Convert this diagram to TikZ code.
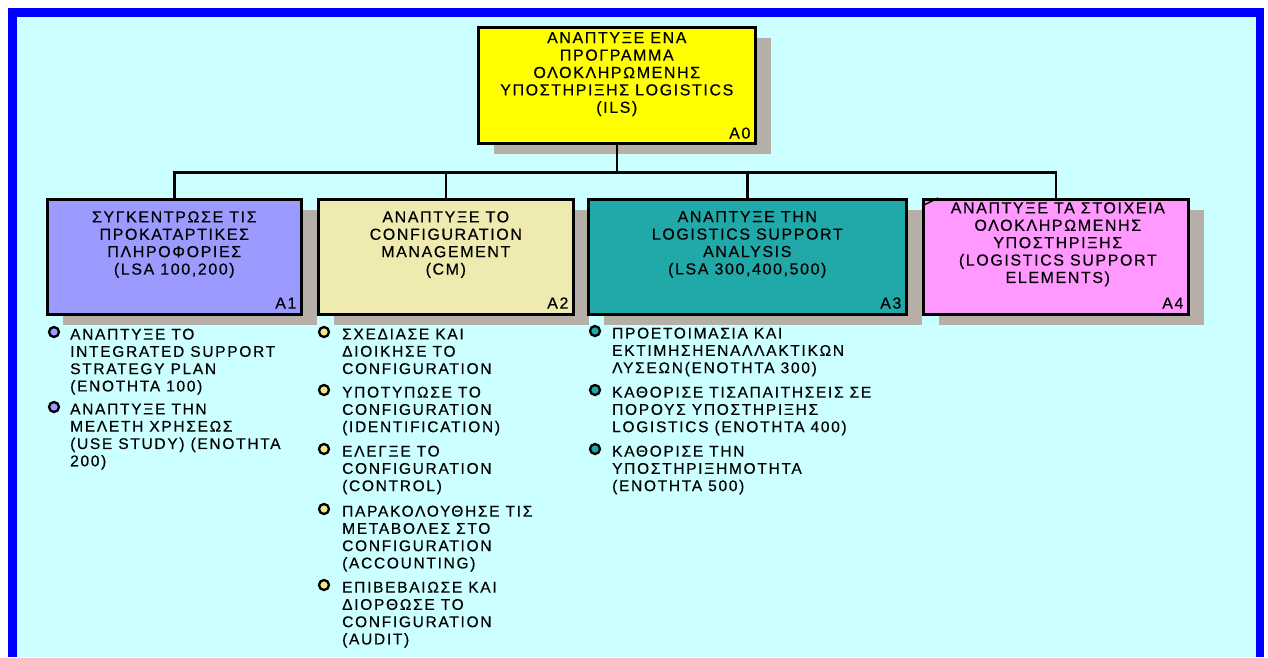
\documentclass[tikz,border=0pt]{standalone}
\usepackage{fontspec}
\setmainfont{Liberation Sans}
\newfontfamily\boxfont{Liberation Sans}[LetterSpace=10, FakeBold=0.4]
\newfontfamily\listfont{Liberation Sans}[LetterSpace=11, FakeBold=0.4]
\usetikzlibrary{shadows,calc}

\definecolor{frameblue}{RGB}{0,0,255}
\definecolor{paper}{RGB}{204,255,255}
\definecolor{shadowgray}{RGB}{181,175,168}
\definecolor{cYellow}{RGB}{255,255,0}
\definecolor{cLavender}{RGB}{155,155,255}
\definecolor{cKhaki}{RGB}{239,235,176}
\definecolor{cTeal}{RGB}{33,168,168}
\definecolor{cPink}{RGB}{255,153,255}
\definecolor{dotKhaki}{RGB}{240,228,140}

\tikzset{
  box/.style={draw=black, line width=2.6pt, anchor=north west, inner sep=0pt,
    general shadow={fill=shadowgray, shadow xshift=16pt, shadow yshift=-11pt}},
  boxtext/.style={anchor=north, align=center, inner sep=0pt,
    font=\boxfont\fontsize{16}{17.4}\selectfont},
  tag/.style={anchor=base east, inner sep=0pt,
    font=\boxfont\fontsize{16}{18}\selectfont},
  item/.style={anchor=north west, align=left, inner sep=0pt,
    font=\listfont\fontsize{15.5}{17.3}\selectfont},
  dot/.style={circle, draw=black, line width=2.3pt, minimum size=10pt, inner sep=0pt},
  wire/.style={line width=2.6pt},
}

\begin{document}
\begin{tikzpicture}[x=1pt, y=-1pt]
  \useasboundingbox (0,0) rectangle (1268,657);
  \fill[white] (0,0) rectangle (1268,657);

  % frame and sheet
  \fill[frameblue] (7.5,8) rectangle (1264,657);
  \fill[paper] (16.5,16.5) rectangle (1256,657);

  % activity boxes
  \node[box, fill=cYellow, minimum width=277pt, minimum height=116pt] (a0) at (477,26) {};
  \node[box, fill=cLavender, minimum width=254pt, minimum height=115pt] (a1) at (46,198) {};
  \node[box, fill=cKhaki, minimum width=255pt, minimum height=115pt] (a2) at (317,198) {};
  \node[box, fill=cTeal, minimum width=318pt, minimum height=115pt] (a3) at (587,198) {};
  \node[box, fill=cPink, minimum width=265pt, minimum height=115pt] (a4) at (922,198) {};

  % decomposition tree
  \coordinate (j0) at ($(a0.south)+(0,28)$);
  \draw[wire] (a0.south) -- (j0);
  \draw[wire] (j0) -| (a1.north);
  \draw[wire] (j0) -| (a2.north);
  \draw[wire] (j0) -| (a3.north);
  \draw[wire] (j0) -| (a4.north);

  % corner mark of the undecomposed box
  \draw[line width=1.4pt] ($(a4.north west)+(0,8)$) -- ($(a4.north west)+(16,0)$);

  % box titles
  \node[boxtext] (t0) at ($(a0.north)+(0,6)$) {ΑΝΑΠΤΥΞΕ ΕΝΑ\\ΠΡΟΓΡΑΜΜΑ\\ΟΛΟΚΛΗΡΩΜΕΝΗΣ\\ΥΠΟΣΤΗΡΙΞΗΣ LOGISTICS\\(ILS)};
  \node[boxtext] (t1) at ($(a1.north)+(0,13)$) {ΣΥΓΚΕΝΤΡΩΣΕ ΤΙΣ\\ΠΡΟΚΑΤΑΡΤΙΚΕΣ\\ΠΛΗΡΟΦΟΡΙΕΣ\\(LSA 100,200)};
  \node[boxtext] (t2) at ($(a2.north)+(0,13)$) {ΑΝΑΠΤΥΞΕ ΤΟ\\CONFIGURATION\\MANAGEMENT\\(CM)};
  \node[boxtext] (t3) at ($(a3.north)+(0,13)$) {ΑΝΑΠΤΥΞΕ ΤΗΝ\\LOGISTICS SUPPORT\\ANALYSIS\\(LSA 300,400,500)};
  \node[boxtext] (t4) at ($(a4.north)+(2,4)$) {ΑΝΑΠΤΥΞΕ ΤΑ ΣΤΟΙΧΕΙΑ\\ΟΛΟΚΛΗΡΩΜΕΝΗΣ\\ΥΠΟΣΤΗΡΙΞΗΣ\\(LOGISTICS SUPPORT\\ELEMENTS)};

  % box numbers
  \node[tag] (n0) at ($(a0.south east)+(-6,-6)$) {A0};
  \node[tag] (n1) at ($(a1.south east)+(-6,-7)$) {A1};
  \node[tag] (n2) at ($(a2.south east)+(-6,-7)$) {A2};
  \node[tag] (n3) at ($(a3.south east)+(-6,-7)$) {A3};
  \node[tag] (n4) at ($(a4.south east)+(-6,-7)$) {A4};

  % A1 activities
  \node[dot, fill=cLavender] (b11) at (54,332) {};
  \node[item] (i11) at (70,328.5) {ΑΝΑΠΤΥΞΕ ΤΟ\\INTEGRATED SUPPORT\\STRATEGY PLAN\\(ΕΝΟΤΗΤΑ 100)};
  \node[dot, fill=cLavender] (b12) at (54,407) {};
  \node[item] (i12) at (70,403.5) {ΑΝΑΠΤΥΞΕ ΤΗΝ\\ΜΕΛΕΤΗ ΧΡΗΣΕΩΣ\\(USE STUDY) (ΕΝΟΤΗΤΑ\\200)};

  % A2 activities
  \node[dot, fill=dotKhaki] (b21) at (324,332) {};
  \node[item] (i21) at (342,328.5) {ΣΧΕΔΙΑΣΕ ΚΑΙ\\ΔΙΟΙΚΗΣΕ ΤΟ\\CONFIGURATION};
  \node[dot, fill=dotKhaki] (b22) at (324,390) {};
  \node[item] (i22) at (342,386.5) {ΥΠΟΤΥΠΩΣΕ ΤΟ\\CONFIGURATION\\(IDENTIFICATION)};
  \node[dot, fill=dotKhaki] (b23) at (324,449) {};
  \node[item] (i23) at (342,445.5) {ΕΛΕΓΞΕ ΤΟ\\CONFIGURATION\\(CONTROL)};
  \node[dot, fill=dotKhaki] (b24) at (324,509) {};
  \node[item] (i24) at (342,505.5) {ΠΑΡΑΚΟΛΟΥΘΗΣΕ ΤΙΣ\\ΜΕΤΑΒΟΛΕΣ ΣΤΟ\\CONFIGURATION\\(ACCOUNTING)};
  \node[dot, fill=dotKhaki] (b25) at (324,585) {};
  \node[item] (i25) at (342,581.5) {ΕΠΙΒΕΒΑΙΩΣΕ ΚΑΙ\\ΔΙΟΡΘΩΣΕ ΤΟ\\CONFIGURATION\\(AUDIT)};

  % A3 activities
  \node[dot, fill=cTeal] (b31) at (595,331) {};
  \node[item] (i31) at (612,327.5) {ΠΡΟΕΤΟΙΜΑΣΙΑ ΚΑΙ\\ΕΚΤΙΜΗΣΗΕΝΑΛΛΑΚΤΙΚΩΝ\\ΛΥΣΕΩΝ(ΕΝΟΤΗΤΑ 300)};
  \node[dot, fill=cTeal] (b32) at (595,390) {};
  \node[item] (i32) at (612,386.5) {ΚΑΘΟΡΙΣΕ ΤΙΣΑΠΑΙΤΗΣΕΙΣ ΣΕ\\ΠΟΡΟΥΣ ΥΠΟΣΤΗΡΙΞΗΣ\\LOGISTICS (ΕΝΟΤΗΤΑ 400)};
  \node[dot, fill=cTeal] (b33) at (595,449) {};
  \node[item] (i33) at (612,445.5) {ΚΑΘΟΡΙΣΕ ΤΗΝ\\ΥΠΟΣΤΗΡΙΞΗΜΟΤΗΤΑ\\(ΕΝΟΤΗΤΑ 500)};
\end{tikzpicture}
\end{document}
